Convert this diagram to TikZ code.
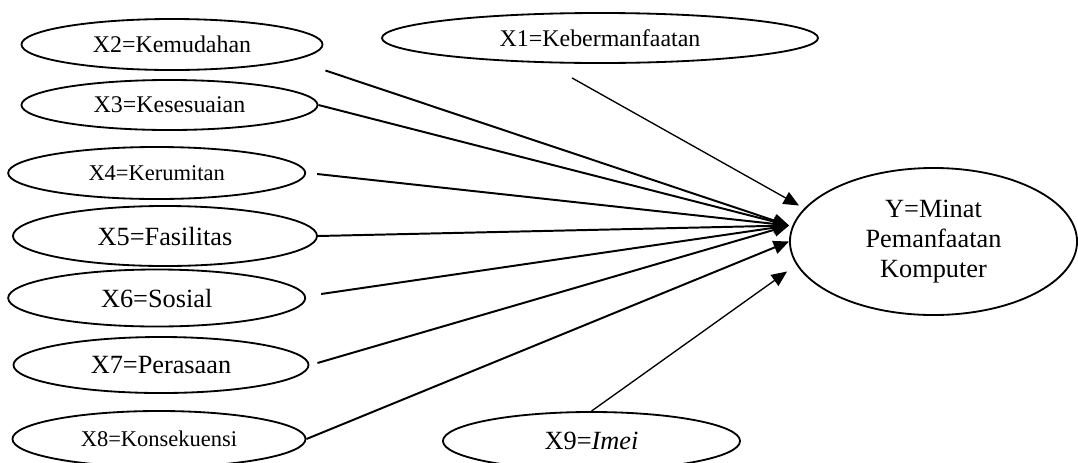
\documentclass[tikz,border=0pt]{standalone}
\usepackage{fontspec}
\setmainfont{Liberation Serif}
\usetikzlibrary{shapes.geometric,arrows.meta}

\tikzset{
  var/.style={draw, ellipse, inner sep=0pt, line width=1.3pt},
  txtS/.style={font=\fontsize{16}{19}\selectfont},
  txtM/.style={font=\fontsize{17}{20}\selectfont},
  txtL/.style={font=\fontsize{18.7}{21.3}\selectfont},
  arr/.style={line width=1.4pt, -{Triangle[length=11pt,width=9.5pt]}},
}

\begin{document}
\begin{tikzpicture}[x=0.025cm,y=-0.025cm]
\useasboundingbox (0,0) rectangle (1078,462);

\node[var, txtM, minimum width=10.9cm, minimum height=1.25cm] (x1) at (600,38) {X1=Kebermanfaatan};
\node[var, txtM, minimum width=7.525cm, minimum height=1.275cm] (x2) at (172,44.5) {X2=Kemudahan};
\node[var, txtM, minimum width=7.4cm, minimum height=1.25cm] (x3) at (169.5,105) {X3=Kesesuaian};
\node[var, txtS, minimum width=7.425cm, minimum height=1.3cm] (x4) at (156.7,173) {X4=Kerumitan};
\node[var, txtL, minimum width=7.6cm, minimum height=1.5cm] (x5) at (165,236) {X5=Fasilitas};
\node[var, txtL, minimum width=7.425cm, minimum height=1.425cm] (x6) at (156.7,298) {X6=Sosial};
\node[var, txtL, minimum width=7.375cm, minimum height=1.4cm] (x7) at (161,365) {X7=Perasaan};
\node[var, txtS, minimum width=7.325cm, minimum height=1.4cm] (x8) at (159,439) {X8=Konsekuensi};
\node[var, txtL, minimum width=7.425cm, minimum height=1.45cm] (x9) at (591.5,441) {X9=\textit{Imei}};

\node[var, txtL, align=center, minimum width=7.175cm, minimum height=3.675cm] (y) at (933.5,241.5) {Y=Minat\\Pemanfaatan\\Komputer};

\path[draw,arr,line width=0.95pt] ([shift={(-28,14)}]x1.south) -- ([shift={(10,-36)}]y.west);
\path[draw,arr] ([shift={(2,26)}]x2.east) -- ([shift={(0,-16)}]y.west);
\path[draw,arr] (x3.east) -- ([shift={(0,-16)}]y.west);
\path[draw,arr] ([shift={(11,1)}]x4.east) -- ([shift={(0,-16)}]y.west);
\path[draw,arr] (x5.east) -- ([shift={(0,-16)}]y.west);
\path[draw,arr] ([shift={(15,-4)}]x6.east) -- ([shift={(0,-16)}]y.west);
\path[draw,arr] ([shift={(8,-2)}]x7.east) -- ([shift={(0,-16)}]y.west);
\path[draw,arr] (x8.east) -- (y.west);
\path[draw,arr,line width=0.95pt] (x9.north) -- ([shift={(-2,30)}]y.west);
\end{tikzpicture}
\end{document}
